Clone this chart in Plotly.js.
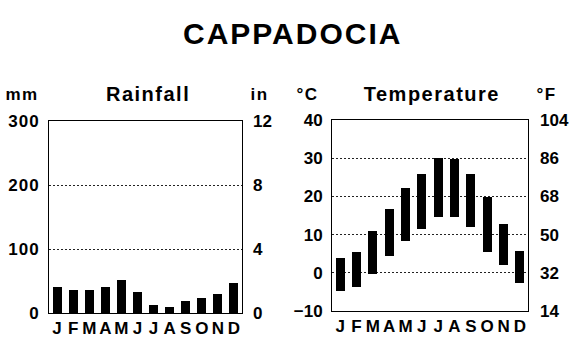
<!DOCTYPE html>
<html>
<head>
<meta charset="utf-8">
<script src="https://cdn.plot.ly/plotly-3.0.1.min.js"></script>
<style>
html,body{margin:0;padding:0;background:#fff;}
#chart{width:574px;height:353px;}
#chart .gtitle{letter-spacing:2px;}
#chart .annotation-text{letter-spacing:1.5px;}
#chart .ytick text{letter-spacing:1px;}
</style>
</head>
<body>
<div id="chart"></div>
<script>
const months = ["J","F","M","A","M","J","J","A","S","O","N","D"];
const rainfallMm = [41, 36, 36, 41, 52, 33, 12, 10, 19, 24, 29, 47];
const tempMax = [3.8, 5.5, 10.9, 16.7, 22.3, 25.9, 30.0, 29.8, 25.9, 19.8, 12.8, 5.7];
const tempMin = [-4.7, -3.6, -0.4, 4.5, 8.3, 11.5, 14.7, 14.7, 12.1, 5.4, 2.1, -2.6];
const mmTicks = [0, 100, 200, 300];
const inTicks = [0, 4, 8, 12];
const cTicks = [-10, 0, 10, 20, 30, 40];
const fTicks = [14, 32, 50, 68, 86, 104];

const idx = months.map((_, i) => i);
const FONT = "Liberation Sans, Arial, sans-serif";
const tickFont = {family: FONT, size: 17, color: "#000", weight: "bold"};

const traces = [
  {type: "bar", x: idx, y: rainfallMm, xaxis: "x", yaxis: "y",
   marker: {color: "#000"}, width: 0.56, hoverinfo: "skip"},
  {type: "scatter", x: [null], y: [null], xaxis: "x", yaxis: "y2", mode: "markers", hoverinfo: "skip"},
  {type: "bar", x: idx, y: tempMax.map((v, i) => v - tempMin[i]), base: tempMin,
   xaxis: "x2", yaxis: "y3", marker: {color: "#000"}, width: 0.56, hoverinfo: "skip"},
  {type: "scatter", x: [null], y: [null], xaxis: "x2", yaxis: "y4", mode: "markers", hoverinfo: "skip"}
];

const frame = {showline: true, linecolor: "#000", linewidth: 1, mirror: true};
const grid = {showgrid: true, gridcolor: "#222", gridwidth: 1, griddash: "2px,2px"};

const layout = {
  width: 574, height: 353,
  margin: {l: 0, r: 0, t: 0, b: 0},
  paper_bgcolor: "#fff", plot_bgcolor: "#fff",
  showlegend: false,
  bargap: 0,
  title: {text: "<b>CAPPADOCIA</b>", font: {family: FONT, size: 30, color: "#000"},
          x: 0.51, xanchor: "center", xref: "paper", y: 0.905, yanchor: "middle", yref: "container"},
  xaxis: Object.assign({domain: [0.0854, 0.4216], range: [-0.5, 11.5], tickvals: idx, ticktext: months, anchor: "y",
    tickfont: tickFont, ticks: "", showgrid: false, zeroline: false, automargin: false, fixedrange: true}, frame),
  yaxis: Object.assign({domain: [0.1133, 0.6572], range: [0, 300], tickvals: mmTicks, anchor: "x",
    tickfont: tickFont, ticks: "", zeroline: false, automargin: false, ticklabelstandoff: 5}, grid, frame),
  yaxis2: {overlaying: "y", side: "right", anchor: "x", range: [0, 12], tickvals: inTicks, tickfont: tickFont,
    showgrid: false, zeroline: false, showline: false, ticks: "", automargin: false, ticklabelstandoff: 10},
  xaxis2: Object.assign({domain: [0.5784, 0.9199], range: [-0.5, 11.5], tickvals: idx, ticktext: months,
    tickfont: tickFont, ticks: "", showgrid: false, zeroline: false, automargin: false, anchor: "y3"}, frame),
  yaxis3: Object.assign({domain: [0.119, 0.660], range: [-10, 40], tickvals: cTicks, anchor: "x2",
    tickfont: tickFont, ticks: "", zeroline: false, automargin: false, ticklabelstandoff: 5}, grid, frame),
  yaxis4: {overlaying: "y3", side: "right", anchor: "x2", range: [14, 104], tickvals: fTicks, tickfont: tickFont,
    showgrid: false, zeroline: false, showline: false, ticks: "", automargin: false, ticklabelstandoff: 11},
  annotations: [
    {text: "mm", x: 22/574, y: 1 - 94/353},
    {text: "in", x: 259/574, y: 1 - 94/353},
    {text: "Rainfall", x: 148/574, y: 1 - 94/353, size: 20},
    {text: "°C", x: 307/574, y: 1 - 94/353},
    {text: "°F", x: 546/574, y: 1 - 94/353},
    {text: "Temperature", x: 432/574, y: 1 - 94/353, size: 20}
  ].map(a => ({text: a.text, x: a.x, y: a.y, xref: "paper", yref: "paper", xanchor: "center", yanchor: "middle",
    showarrow: false, font: {family: FONT, size: a.size || 17, color: "#000", weight: "bold"}}))
};

Plotly.newPlot("chart", traces, layout, {displayModeBar: false, staticPlot: true});
</script>
</body>
</html>
